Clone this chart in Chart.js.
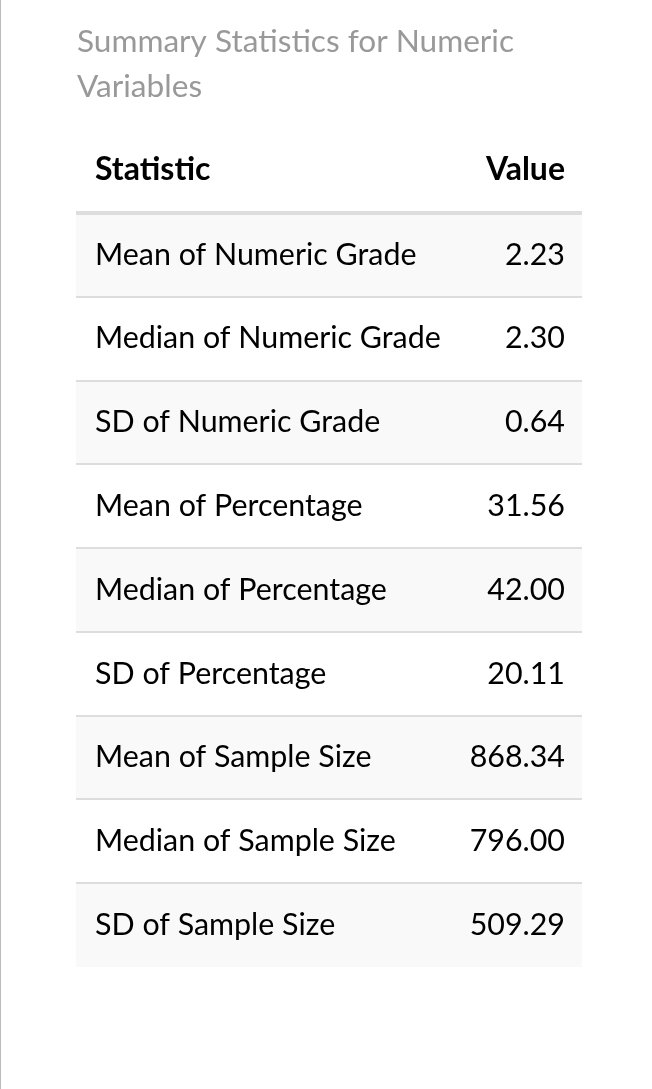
<!DOCTYPE html>
<html><head><meta charset="utf-8">
<script src="https://cdn.jsdelivr.net/npm/chart.js@4.4.0/dist/chart.umd.min.js"></script>
<style>html,body{margin:0;padding:0;background:#fff;}canvas{display:block;}</style>
</head><body>
<div style="width:652px;height:1089px;position:relative"><canvas id="c" width="652" height="1089"></canvas></div>
<script>
const titleLines = ['Summary Statistics for Numeric', 'Variables'];
const columnHeaders = ['Statistic', 'Value'];
const statistics = [
  'Mean of Numeric Grade', 'Median of Numeric Grade', 'SD of Numeric Grade',
  'Mean of Percentage', 'Median of Percentage', 'SD of Percentage',
  'Mean of Sample Size', 'Median of Sample Size', 'SD of Sample Size'
];
const values = [2.23, 2.30, 0.64, 31.56, 42.00, 20.11, 868.34, 796.00, 509.29];
const valueLabels = values.map(v => v.toFixed(2));

const FONT = 'Lato, "Source Sans Pro", "Noto Sans", sans-serif';
const BODY_SIZE = 30.4;

const tablePlugin = {
  id: 'tableText',
  afterDraw(chart) {
    const c = chart.ctx, a = chart.chartArea;
    c.save();
    c.fillStyle = '#bbbbbb';
    c.fillRect(0, 0, 1, chart.height);
    c.fillStyle = '#999999';
    c.font = '400 31.6px ' + FONT;
    c.textAlign = 'left';
    c.textBaseline = 'alphabetic';
    c.fillText(titleLines[0], a.left + 1, a.top - 161);
    c.fillText(titleLines[1], a.left + 1, a.top - 116);
    c.fillStyle = '#000000';
    c.font = '700 32px ' + FONT;
    c.fillText(columnHeaders[0], a.left + 19, a.top - 33);
    c.textAlign = 'right';
    c.fillText(columnHeaders[1], a.right - 17, a.top - 33);
    c.restore();
  }
};

new Chart(document.getElementById('c'), {
  type: 'bar',
  data: {
    labels: statistics,
    datasets: [{
      data: statistics.map(() => [0, 1]),
      backgroundColor: statistics.map((_, i) => i % 2 === 0 ? '#f9f9f9' : '#ffffff'),
      borderWidth: 0,
      barPercentage: 1,
      categoryPercentage: 1
    }]
  },
  options: {
    indexAxis: 'y',
    responsive: false,
    animation: false,
    events: [],
    layout: { padding: { left: 38, right: 70, top: 213, bottom: 122 } },
    plugins: { legend: { display: false }, tooltip: { enabled: false }, title: { display: false } },
    scales: {
      x: { type: 'linear', min: 0, max: 1, display: false },
      y: {
        type: 'category', position: 'left', offset: true,
        grid: {
          offset: true, drawTicks: false, z: 1,
          color: ctx => ctx.type === 'tick' ? '#dddddd' : 'rgba(0,0,0,0)',
          lineWidth: ctx => (ctx.type === 'tick' && ctx.index === 0) ? 4 : 2
        },
        border: { display: false },
        ticks: { mirror: true, padding: 19, autoSkip: false, z: 1, color: '#000000', font: { family: FONT, size: BODY_SIZE } }
      },
      y2: {
        type: 'category', labels: valueLabels, position: 'right', offset: true,
        grid: { display: false, drawTicks: false },
        border: { display: false },
        ticks: { mirror: true, padding: -17, autoSkip: false, z: 1, color: '#000000', font: { family: FONT, size: BODY_SIZE } }
      }
    }
  },
  plugins: [tablePlugin]
});
</script>
</body></html>
